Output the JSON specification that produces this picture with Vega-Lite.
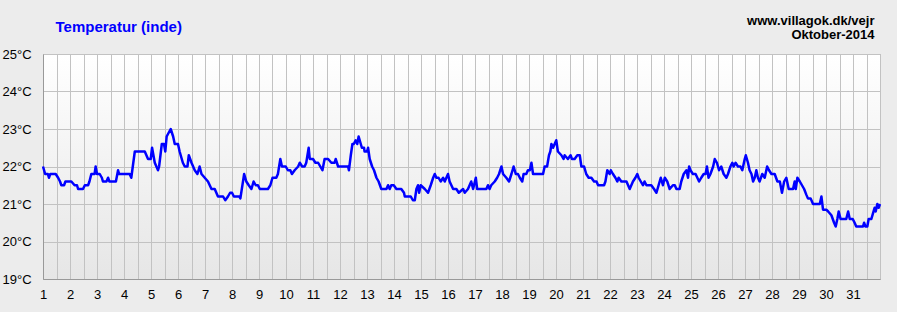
{
  "$schema": "https://vega.github.io/schema/vega-lite/v6.json",
  "width": 837,
  "height": 225,
  "autosize": {"type": "none"},
  "padding": {"left": 43, "top": 54, "right": 17, "bottom": 33},
  "background": "#ececec",
  "data": {"values": [
    {"day":1.00,"temp":22.0},{"day":1.08,"temp":21.8},{"day":1.18,"temp":21.8},{"day":1.22,"temp":21.7},{"day":1.27,"temp":21.8},{"day":1.47,"temp":21.8},{"day":1.56,"temp":21.7},{"day":1.63,"temp":21.6},{"day":1.68,"temp":21.5},{"day":1.78,"temp":21.5},{"day":1.83,"temp":21.6},{"day":2.05,"temp":21.6},{"day":2.17,"temp":21.5},{"day":2.26,"temp":21.5},{"day":2.30,"temp":21.4},{"day":2.48,"temp":21.4},{"day":2.55,"temp":21.5},{"day":2.67,"temp":21.5},{"day":2.72,"temp":21.6},{"day":2.79,"temp":21.8},{"day":2.91,"temp":21.8},{"day":2.95,"temp":22.0},{"day":3.00,"temp":21.8},{"day":3.10,"temp":21.8},{"day":3.18,"temp":21.7},{"day":3.22,"temp":21.6},{"day":3.35,"temp":21.6},{"day":3.41,"temp":21.7},{"day":3.46,"temp":21.6},{"day":3.70,"temp":21.6},{"day":3.78,"temp":21.9},{"day":3.82,"temp":21.8},{"day":4.21,"temp":21.8},{"day":4.27,"temp":21.7},{"day":4.40,"temp":22.4},{"day":4.77,"temp":22.4},
    {"day":4.89,"temp":22.2},{"day":4.99,"temp":22.2},{"day":5.04,"temp":22.5},{"day":5.14,"temp":22.1},{"day":5.26,"temp":21.9},{"day":5.30,"temp":22.0},{"day":5.40,"temp":22.6},{"day":5.48,"temp":22.6},{"day":5.53,"temp":22.4},{"day":5.58,"temp":22.8},{"day":5.73,"temp":23.0},{"day":5.82,"temp":22.8},{"day":5.88,"temp":22.6},{"day":6.00,"temp":22.6},{"day":6.06,"temp":22.4},{"day":6.18,"temp":22.1},{"day":6.25,"temp":22.0},{"day":6.35,"temp":22.0},{"day":6.40,"temp":22.3},{"day":6.50,"temp":22.1},{"day":6.62,"temp":21.9},{"day":6.72,"temp":21.8},{"day":6.80,"temp":22.0},{"day":6.87,"temp":21.8},{"day":6.99,"temp":21.7},{"day":7.11,"temp":21.6},{"day":7.24,"temp":21.4},{"day":7.36,"temp":21.4},{"day":7.48,"temp":21.2},{"day":7.67,"temp":21.2},{"day":7.75,"temp":21.1},{"day":7.85,"temp":21.2},{"day":7.93,"temp":21.3},{"day":8.00,"temp":21.3},{"day":8.07,"temp":21.2},{"day":8.27,"temp":21.2},{"day":8.31,"temp":21.15},{"day":8.45,"temp":21.8},{"day":8.53,"temp":21.6},{"day":8.62,"temp":21.5},{"day":8.72,"temp":21.4},{"day":8.80,"temp":21.6},{"day":8.88,"temp":21.5},{"day":8.96,"temp":21.5},{"day":9.03,"temp":21.4},{"day":9.33,"temp":21.4},{"day":9.42,"temp":21.5},{"day":9.50,"temp":21.7},{"day":9.64,"temp":21.7},{"day":9.70,"temp":21.8},{"day":9.79,"temp":22.2},{"day":9.85,"temp":22.0},{"day":9.99,"temp":22.0},{"day":10.07,"temp":21.9},{"day":10.16,"temp":21.9},{"day":10.22,"temp":21.8},{"day":10.32,"temp":21.9},{"day":10.45,"temp":22.0},{"day":10.51,"temp":22.1},{"day":10.60,"temp":22.0},{"day":10.69,"temp":22.0},{"day":10.75,"temp":22.1},{"day":10.84,"temp":22.5},{"day":10.88,"temp":22.2},{"day":11.00,"temp":22.2},{"day":11.09,"temp":22.1},{"day":11.19,"temp":22.1},{"day":11.27,"temp":22.0},{"day":11.35,"temp":21.9},{"day":11.43,"temp":22.2},{"day":11.56,"temp":22.2},{"day":11.68,"temp":22.1},{"day":11.80,"temp":22.1},{"day":11.84,"temp":22.2},{"day":11.93,"temp":22.0},{"day":12.30,"temp":22.0},{"day":12.33,"temp":21.9},{"day":12.40,"temp":22.3},{"day":12.46,"temp":22.6},{"day":12.51,"temp":22.6},{"day":12.58,"temp":22.7},
    {"day":12.64,"temp":22.6},{"day":12.69,"temp":22.8},{"day":12.77,"temp":22.6},{"day":12.81,"temp":22.5},{"day":12.89,"temp":22.5},{"day":12.91,"temp":22.4},{"day":13.00,"temp":22.4},{"day":13.04,"temp":22.5},{"day":13.10,"temp":22.2},{"day":13.19,"temp":22.0},{"day":13.26,"temp":21.9},{"day":13.35,"temp":21.7},{"day":13.43,"temp":21.6},{"day":13.53,"temp":21.4},{"day":13.72,"temp":21.4},{"day":13.78,"temp":21.5},{"day":13.84,"temp":21.4},{"day":13.90,"temp":21.5},{"day":13.99,"temp":21.5},{"day":14.09,"temp":21.4},{"day":14.27,"temp":21.4},{"day":14.37,"temp":21.3},{"day":14.40,"temp":21.2},{"day":14.62,"temp":21.2},{"day":14.70,"temp":21.1},{"day":14.77,"temp":21.1},{"day":14.83,"temp":21.4},{"day":14.89,"temp":21.5},{"day":14.93,"temp":21.3},{"day":14.99,"temp":21.5},{"day":15.14,"temp":21.4},{"day":15.26,"temp":21.3},{"day":15.36,"temp":21.5},{"day":15.45,"temp":21.7},{"day":15.51,"temp":21.8},{"day":15.57,"temp":21.7},{"day":15.65,"temp":21.7},{"day":15.73,"temp":21.6},{"day":15.82,"temp":21.7},{"day":15.88,"temp":21.6},{"day":16.00,"temp":21.8},{"day":16.06,"temp":21.6},{"day":16.19,"temp":21.4},{"day":16.31,"temp":21.4},{"day":16.40,"temp":21.3},{"day":16.56,"temp":21.4},{"day":16.62,"temp":21.3},{"day":16.74,"temp":21.4},{"day":16.86,"temp":21.6},{"day":16.93,"temp":21.4},{"day":17.03,"temp":21.7},{"day":17.08,"temp":21.4},{"day":17.42,"temp":21.4},{"day":17.48,"temp":21.5},{"day":17.54,"temp":21.4},{"day":17.60,"temp":21.5},{"day":17.73,"temp":21.6},{"day":17.82,"temp":21.7},{"day":17.89,"temp":21.8},{"day":17.98,"temp":22.0},{"day":18.04,"temp":21.8},{"day":18.16,"temp":21.7},{"day":18.26,"temp":21.6},{"day":18.35,"temp":21.8},{"day":18.43,"temp":22.0},{"day":18.51,"temp":21.8},{"day":18.59,"temp":21.8},{"day":18.66,"temp":21.7},{"day":18.75,"temp":21.6},{"day":18.80,"temp":21.8},{"day":18.90,"temp":21.8},{"day":18.96,"temp":21.9},{"day":19.03,"temp":21.9},{"day":19.09,"temp":22.1},{"day":19.15,"temp":21.8},{"day":19.52,"temp":21.8},{"day":19.58,"temp":22.0},{"day":19.67,"temp":22.0},{"day":19.74,"temp":22.3},{"day":19.79,"temp":22.4},{"day":19.83,"temp":22.6},{"day":19.89,"temp":22.5},{"day":20.01,"temp":22.7},{"day":20.07,"temp":22.4},{"day":20.20,"temp":22.3},{"day":20.28,"temp":22.2},
    {"day":20.32,"temp":22.3},{"day":20.44,"temp":22.2},{"day":20.54,"temp":22.3},{"day":20.59,"temp":22.2},{"day":20.69,"temp":22.2},{"day":20.79,"temp":22.3},{"day":20.88,"temp":22.3},{"day":20.94,"temp":22.0},{"day":21.04,"temp":22.0},{"day":21.12,"temp":21.8},{"day":21.21,"temp":21.7},{"day":21.31,"temp":21.7},{"day":21.41,"temp":21.6},{"day":21.50,"temp":21.6},{"day":21.56,"temp":21.5},{"day":21.78,"temp":21.5},{"day":21.83,"temp":21.6},{"day":21.90,"temp":21.9},{"day":21.99,"temp":21.8},{"day":22.03,"temp":21.9},{"day":22.11,"temp":21.8},{"day":22.20,"temp":21.7},{"day":22.27,"temp":21.6},{"day":22.32,"temp":21.7},{"day":22.42,"temp":21.6},{"day":22.61,"temp":21.6},{"day":22.73,"temp":21.4},{"day":22.85,"temp":21.6},{"day":22.94,"temp":21.7},{"day":23.01,"temp":21.8},{"day":23.06,"temp":21.7},{"day":23.14,"temp":21.6},{"day":23.22,"temp":21.5},{"day":23.28,"temp":21.6},{"day":23.35,"temp":21.5},{"day":23.53,"temp":21.5},{"day":23.63,"temp":21.4},{"day":23.72,"temp":21.3},{"day":23.80,"temp":21.5},{"day":23.88,"temp":21.7},{"day":23.96,"temp":21.5},{"day":24.03,"temp":21.7},{"day":24.12,"temp":21.6},{"day":24.21,"temp":21.4},
    {"day":24.33,"temp":21.5},{"day":24.40,"temp":21.5},{"day":24.46,"temp":21.4},{"day":24.58,"temp":21.4},{"day":24.64,"temp":21.6},{"day":24.73,"temp":21.8},{"day":24.83,"temp":21.9},{"day":24.89,"temp":21.7},{"day":24.93,"temp":22.0},{"day":24.98,"temp":21.9},{"day":25.07,"temp":21.8},{"day":25.17,"temp":21.8},{"day":25.30,"temp":21.6},{"day":25.38,"temp":21.7},{"day":25.47,"temp":21.8},{"day":25.54,"temp":21.8},{"day":25.59,"temp":22.0},{"day":25.65,"temp":21.7},{"day":25.72,"temp":21.8},{"day":25.82,"temp":22.0},{"day":25.88,"temp":22.2},{"day":25.96,"temp":22.1},{"day":26.04,"temp":21.9},{"day":26.12,"temp":22.0},{"day":26.21,"temp":21.8},{"day":26.31,"temp":21.7},{"day":26.37,"temp":21.8},{"day":26.46,"temp":22.0},{"day":26.53,"temp":22.1},{"day":26.58,"temp":22.0},{"day":26.65,"temp":22.1},{"day":26.74,"temp":22.0},{"day":26.83,"temp":22.0},{"day":26.90,"temp":21.9},{"day":26.99,"temp":22.2},{"day":27.03,"temp":22.3},{"day":27.11,"temp":22.1},{"day":27.17,"temp":21.9},{"day":27.24,"temp":21.8},{"day":27.30,"temp":21.6},{"day":27.36,"temp":21.7},{"day":27.42,"temp":21.9},{"day":27.48,"temp":21.7},{"day":27.54,"temp":21.6},{"day":27.64,"temp":21.8},{"day":27.73,"temp":21.7},{"day":27.82,"temp":22.0},{"day":27.89,"temp":21.9},{"day":27.98,"temp":21.8},{"day":28.10,"temp":21.8},
    {"day":28.20,"temp":21.6},{"day":28.29,"temp":21.6},{"day":28.37,"temp":21.3},{"day":28.45,"temp":21.6},{"day":28.53,"temp":21.7},{"day":28.62,"temp":21.4},{"day":28.78,"temp":21.4},{"day":28.84,"temp":21.6},{"day":28.88,"temp":21.4},{"day":28.94,"temp":21.7},{"day":29.03,"temp":21.6},{"day":29.11,"temp":21.5},{"day":29.19,"temp":21.4},{"day":29.27,"temp":21.25},{"day":29.33,"temp":21.15},{"day":29.43,"temp":21.15},{"day":29.52,"temp":21.0},{"day":29.77,"temp":21.0},{"day":29.83,"temp":21.2},{"day":29.89,"temp":20.85},{"day":30.01,"temp":20.85},{"day":30.08,"temp":20.8},{"day":30.20,"temp":20.7},{"day":30.30,"temp":20.5},{"day":30.36,"temp":20.4},{"day":30.42,"temp":20.6},{"day":30.47,"temp":20.8},{"day":30.54,"temp":20.6},{"day":30.75,"temp":20.6},{"day":30.82,"temp":20.8},{"day":30.88,"temp":20.6},{"day":30.99,"temp":20.6},{"day":31.06,"temp":20.5},{"day":31.12,"temp":20.4},{"day":31.37,"temp":20.4},{"day":31.41,"temp":20.5},{"day":31.46,"temp":20.4},{"day":31.53,"temp":20.4},{"day":31.58,"temp":20.6},{"day":31.68,"temp":20.6},{"day":31.74,"temp":20.75},{"day":31.80,"temp":20.9},{"day":31.84,"temp":20.8},{"day":31.90,"temp":21.0},{"day":31.95,"temp":20.9},{"day":32.00,"temp":21.0}
  ]},
  "mark": {"type": "line", "color": "#0000ff", "strokeWidth": 2.5, "interpolate": "linear", "strokeJoin": "round"},
  "encoding": {
    "x": {
      "field": "day", "type": "quantitative",
      "scale": {"domain": [1, 32], "nice": false, "zero": false},
      "axis": {
        "values": [1,1.5,2,2.5,3,3.5,4,4.5,5,5.5,6,6.5,7,7.5,8,8.5,9,9.5,10,10.5,11,11.5,12,12.5,13,13.5,14,14.5,15,15.5,16,16.5,17,17.5,18,18.5,19,19.5,20,20.5,21,21.5,22,22.5,23,23.5,24,24.5,25,25.5,26,26.5,27,27.5,28,28.5,29,29.5,30,30.5,31,31.5,32],
        "labelExpr": "datum.value % 1 === 0 && datum.value < 32 ? datum.value : ''",
        "labelFont": "Liberation Sans", "labelFontSize": 13, "labelColor": "#000000",
        "labelPadding": 9, "labelBaseline": "top", "labelFlush": false, "labelOverlap": false,
        "ticks": false, "tickSize": 0,
        "grid": true, "gridColor": "#c2c2c2", "gridWidth": 1,
        "domain": true, "domainColor": "#999999",
        "title": ["www.villagok.dk/vejr", "Oktober-2014"],
        "titleFont": "Liberation Sans", "titleFontSize": 13, "titleFontWeight": "bold", "titleColor": "#000000",
        "titleAlign": "right", "titleAnchor": null, "titleBaseline": "alphabetic", "titleLineHeight": 14,
        "titleX": 831, "titleY": -255
      }
    },
    "y": {
      "field": "temp", "type": "quantitative",
      "scale": {"domain": [19, 25], "nice": false, "zero": false},
      "axis": {
        "values": [19,20,21,22,23,24,25],
        "labelExpr": "datum.value + '°C'",
        "labelFont": "Liberation Sans", "labelFontSize": 13, "labelColor": "#000000",
        "labelAlign": "left", "labelPadding": 41, "labelBaseline": "middle", "labelFlush": false,
        "ticks": false, "tickSize": 0,
        "grid": true, "gridColor": "#c2c2c2", "gridWidth": 1,
        "domain": true, "domainColor": "#999999",
        "title": "Temperatur (inde)",
        "titleFont": "Liberation Sans", "titleFontSize": 15, "titleFontWeight": "bold", "titleColor": "#0000ff",
        "titleAngle": 0, "titleAlign": "left", "titleBaseline": "alphabetic", "titleAnchor": null,
        "titleX": 12, "titleY": -22.5
      }
    }
  },
  "config": {
    "view": {
      "stroke": "#a8a8a8", "strokeWidth": 1,
      "fill": {"gradient": "linear", "x1": 0, "y1": 0, "x2": 0, "y2": 1, "stops": [{"offset": 0, "color": "#ffffff"}, {"offset": 1, "color": "#e6e6e6"}]}
    }
  }
}
